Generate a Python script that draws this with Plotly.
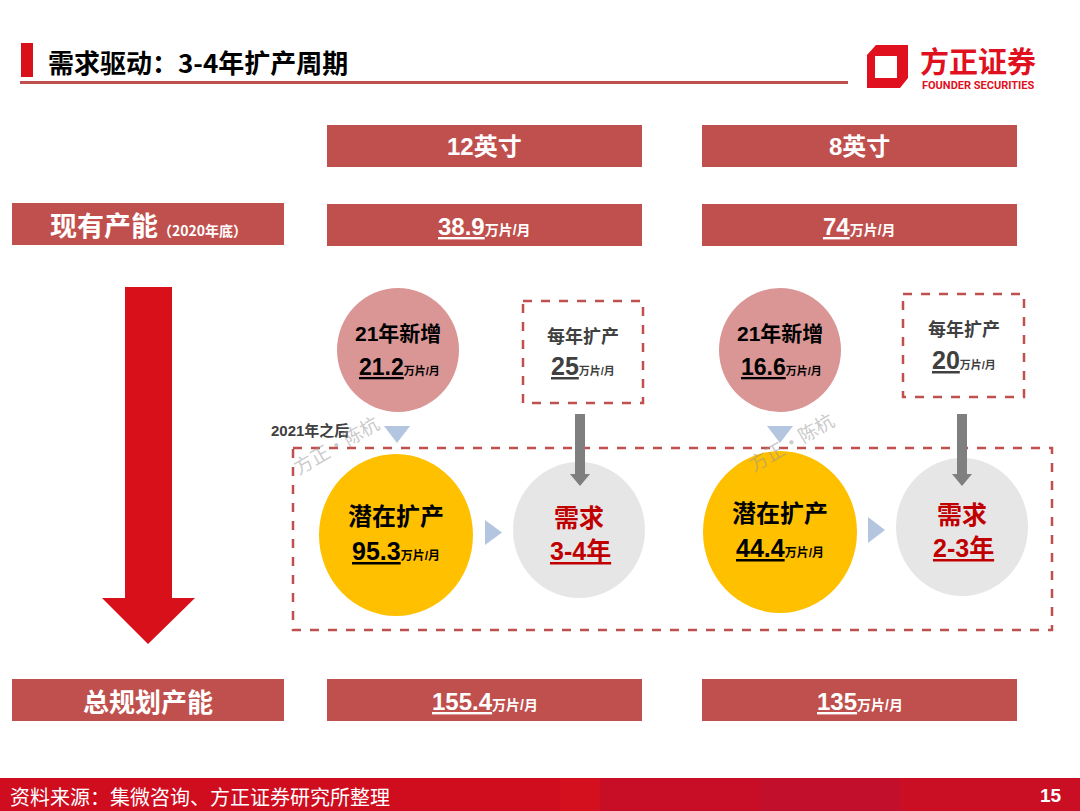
import plotly.graph_objects as go

# ---------------- data ----------------
title = "需求驱动：3-4年扩产周期"
wafer_sizes = ["12英寸", "8英寸"]
existing_capacity = [38.9, 74]          # 现有产能（2020年底）, 万片/月
new_2021 = [21.2, 16.6]                 # 21年新增
annual_expansion = [25, 20]             # 每年扩产
potential_expansion = [95.3, 44.4]      # 潜在扩产
demand_years = ["3-4年", "2-3年"]       # 需求
total_planned = [155.4, 135]            # 总规划产能
unit = "万片/月"
row_labels = ["现有产能", "总规划产能"]
source_text = "资料来源：集微咨询、方正证券研究所整理"
page_no = "15"

# ---------------- layout constants ----------------
W, H = 1080, 811
RED_BOX = "#C0504D"
BRIGHT_RED = "#D7101A"
PINK = "#D99694"
YELLOW = "#FFC000"
LGRAY = "#E7E6E6"
TRI = "#B4C5E0"
ARROW_GRAY = "#7F7F7F"
DEMAND_RED = "#C00000"
FONT = "Liberation Sans, Noto Sans CJK SC, sans-serif"
CJK = "Noto Sans CJK SC, sans-serif"

col_x = [(327, 642), (702, 1017)]
col_cx = [484.5, 859.5]

shapes = []
annotations = []


def rect(x0, y0, x1, y1, fill, line_color=None, dash=None, lw=0):
    shapes.append(dict(type="rect", xref="x", yref="y", x0=x0, y0=y0, x1=x1, y1=y1,
                       fillcolor=fill, layer="below",
                       line=dict(color=line_color or "rgba(0,0,0,0)", width=lw, dash=dash)))


def ellipse(cx, cy, rx, ry, fill):
    shapes.append(dict(type="circle", xref="x", yref="y", x0=cx - rx, y0=cy - ry,
                       x1=cx + rx, y1=cy + ry, fillcolor=fill, layer="below",
                       line=dict(width=0)))


def path(d, fill):
    shapes.append(dict(type="path", xref="x", yref="y", path=d, fillcolor=fill,
                       layer="below", line=dict(width=0)))


def text(x, y, t, size, color="black", family=FONT, xanchor="center", angle=0):
    annotations.append(dict(x=x, y=y, xref="x", yref="y", text=t, showarrow=False,
                            xanchor=xanchor, yanchor="middle", textangle=angle,
                            font=dict(size=size, color=color, family=family)))


def val_unit(v, small):
    return f"<b><u>{v}</u><span style='font-size:{small}px'>{unit}</span></b>"


# ---------------- header ----------------
rect(21, 43, 33, 77, BRIGHT_RED)
text(46, 61, f"<b>{title}</b>", 26, "black", CJK, xanchor="left")
rect(20, 81, 848, 84, RED_BOX)

# logo
path("M876,45 L908,45 L908,78 L900,88 L867,88 L867,55 Z "
     "M875,56 L875,78 L897,78 L897,56 Z", "#E0101E")
text(978, 60, "<b>方正证券</b>", 29, "#E0101E", CJK)
text(978, 85, "<b>FOUNDER SECURITIES</b>", 11, "#E0101E", "Roboto, Liberation Sans")

# ---------------- column headers / rows ----------------
rect(12, 203, 284, 245, RED_BOX)
text(148, 224, f"<b>{row_labels[0]}<span style='font-size:14px'>（2020年底）</span></b>", 27, "white", CJK)
rect(12, 679, 284, 721, RED_BOX)
text(148, 700, f"<b>{row_labels[1]}</b>", 26, "white", CJK)

for i in range(2):
    x0, x1 = col_x[i]
    rect(x0, 125, x1, 167, RED_BOX)
    text(col_cx[i], 146, f"<b>{wafer_sizes[i]}</b>", 24, "white", FONT)
    rect(x0, 204, x1, 246, RED_BOX)
    text(col_cx[i], 226, val_unit(existing_capacity[i], 14), 24, "white", FONT)
    rect(x0, 679, x1, 721, RED_BOX)
    text(col_cx[i], 701, val_unit(total_planned[i], 14), 24, "white", FONT)

# big red arrow
path("M125,287 L172,287 L172,598 L195,598 L148,644 L102,598 L125,598 Z", BRIGHT_RED)

# big dashed frame
rect(293, 448, 1052, 630, "rgba(0,0,0,0)", RED_BOX, "dash", 2.5)

# per-column elements
pink_c = [(398, 350), (780, 350)]
box_d = [(523, 301, 643, 403), (903, 294, 1024, 397)]
yellow_c = [(396, 535, 77, 81), (780, 532, 77, 81)]
gray_c = [(579, 530, 66, 68), (962, 527, 66, 69)]
arrow_x = [580, 962]
down_tri_x = [397, 780]
right_tri = [(485, 520, 502, 545), (868, 517, 885, 543)]

for i in range(2):
    cx, cy = pink_c[i]
    ellipse(cx, cy, 61, 62, PINK)
    text(cx, cy - 17, "<b>21年新增</b>", 21, "black", FONT)
    text(cx + 1, cy + 17, val_unit(new_2021[i], 11), 23, "black", FONT)

    bx0, by0, bx1, by1 = box_d[i]
    rect(bx0, by0, bx1, by1, "rgba(0,0,0,0)", RED_BOX, "dash", 2.5)
    bcx = (bx0 + bx1) / 2
    bcy = (by0 + by1) / 2
    text(bcx, bcy - 16, "<b>每年扩产</b>", 18, "#404040", FONT)
    text(bcx, bcy + 14, val_unit(annual_expansion[i], 11), 25, "#404040", FONT)

    gcx, gcy, grx, gry = gray_c[i]
    ellipse(gcx, gcy, grx, gry, LGRAY)
    text(gcx, gcy - 12, "<b>需求</b>", 25, DEMAND_RED, FONT)
    text(gcx + 1, gcy + 21, f"<b><u>{demand_years[i]}</u></b>", 25, DEMAND_RED, FONT)

    ax = arrow_x[i]
    path(f"M{ax-5},414 L{ax+5},414 L{ax+5},474 L{ax+10},474 L{ax},486 "
         f"L{ax-10},474 L{ax-5},474 Z", ARROW_GRAY)

    tx = down_tri_x[i]
    path(f"M{tx-13},426 L{tx+13},426 L{tx},443 Z", TRI)

    ycx, ycy, yrx, yry = yellow_c[i]
    ellipse(ycx, ycy, yrx, yry, YELLOW)
    text(ycx, ycy - 19, "<b>潜在扩产</b>", 24, "black", FONT)
    text(ycx, ycy + 16, val_unit(potential_expansion[i], 12), 25, "black", FONT)

    rx0, ry0, rx1, ry1 = right_tri[i]
    path(f"M{rx0},{ry0} L{rx1},{(ry0+ry1)/2} L{rx0},{ry1} Z", TRI)

# labels / watermarks
text(310, 430, "<b>2021年之后</b>", 15, "#404040", FONT)
text(335, 444, "方正·陈杭", 19, "rgba(150,150,150,0.5)", CJK, angle=-30)
text(790, 441, "方正·陈杭", 19, "rgba(150,150,150,0.5)", CJK, angle=-30)

# ---------------- footer ----------------
rect(0, 778, 1080, 811, "#CF0D1F")
rect(560, 778, 600, 811, "#D40F1E")
rect(600, 778, 760, 811, "#C80E27")
rect(760, 778, 900, 811, "#C20F2B")
rect(900, 778, 1080, 811, "#CA0E24")
text(8, 796, source_text, 20, "white", CJK, xanchor="left")
text(1051, 795, f"<b>{page_no}</b>", 19, "white", FONT)

fig = go.Figure()
fig.update_layout(
    width=W, height=H,
    margin=dict(l=0, r=0, t=0, b=0),
    paper_bgcolor="white", plot_bgcolor="white",
    xaxis=dict(range=[0, W], visible=False, fixedrange=True),
    yaxis=dict(range=[H, 0], visible=False, fixedrange=True),
    shapes=shapes, annotations=annotations,
    showlegend=False,
)
fig.write_html(
    "out.html",
    config={"displayModeBar": False},
    post_script="document.body.style.margin='0';document.body.style.overflow='hidden';",
)
